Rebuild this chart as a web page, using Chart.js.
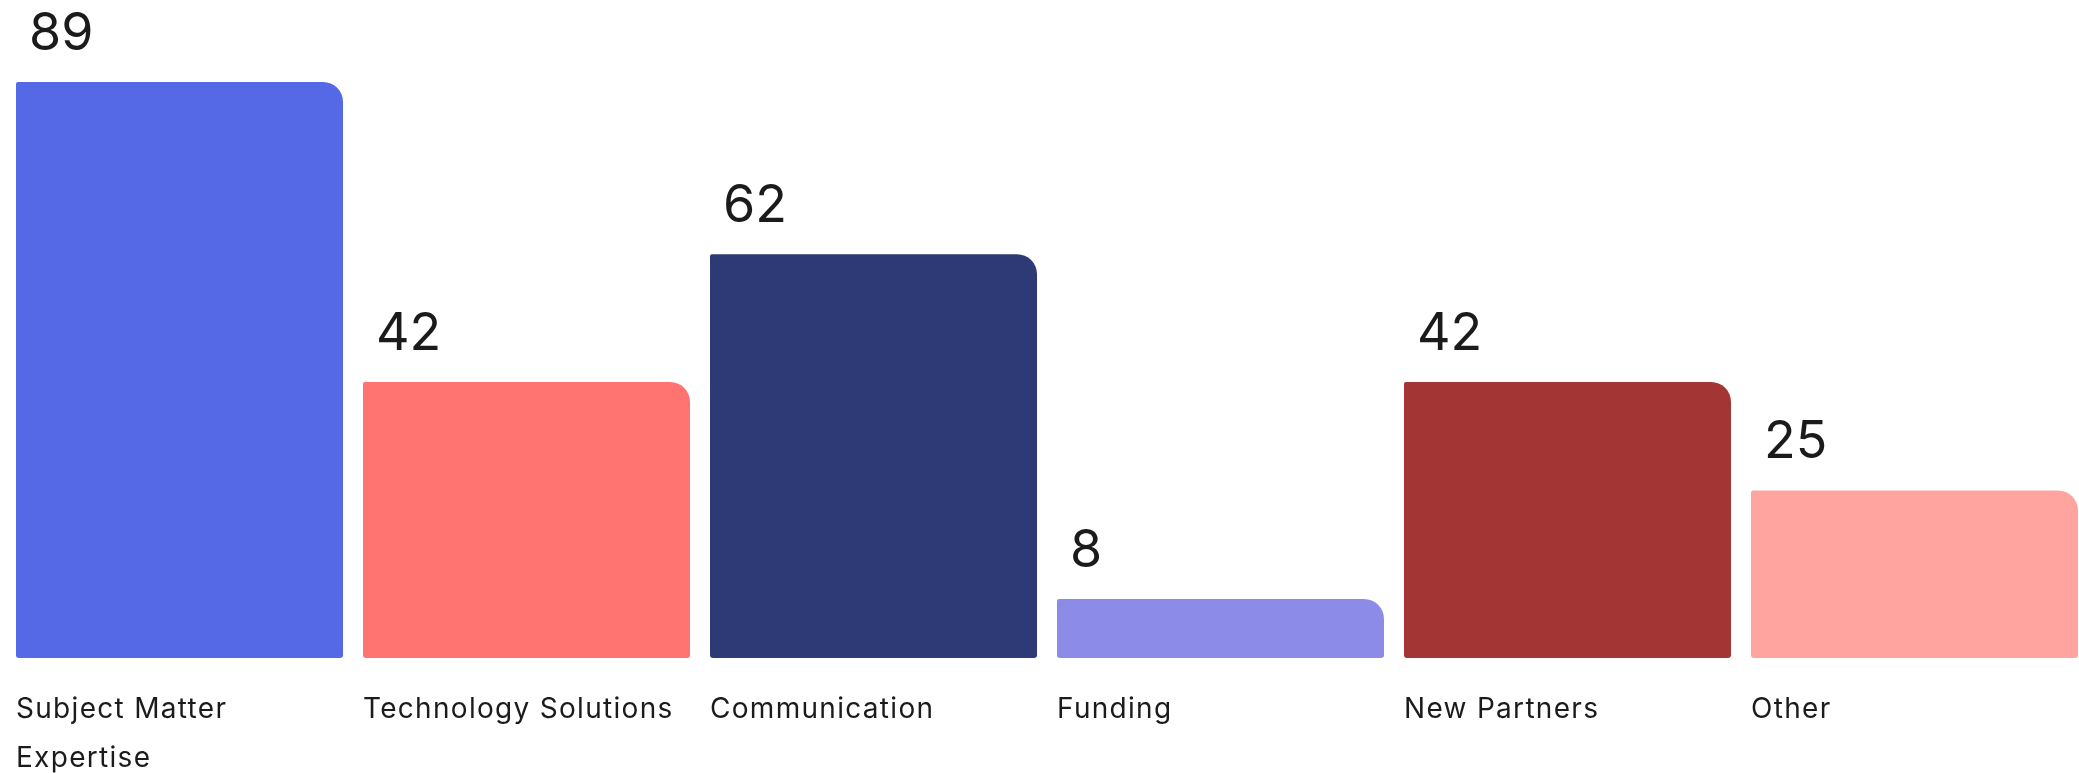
<!DOCTYPE html>
<html>
<head>
<meta charset="utf-8">
<script src="https://cdn.jsdelivr.net/npm/chart.js@4/dist/chart.umd.min.js"></script>
<style>
  html, body { margin: 0; padding: 0; background: #ffffff; overflow: hidden; }
  #wrap { position: absolute; left: 0; top: 0; width: 2088px; height: 773px; }
</style>
</head>
<body>
<div id="wrap"><canvas id="c"></canvas></div>
<script>
const categories = [
  ["Subject Matter", "Expertise"],
  ["Technology Solutions"],
  ["Communication"],
  ["Funding"],
  ["New Partners"],
  ["Other"]
];
const values = [89, 42, 62, 8, 42, 25];
const barColors = ["#5568E5", "#FF7470", "#2D3A76", "#8C8CE8", "#A33535", "#FFA49F"];

const labelPlugin = {
  id: 'labelPlugin',
  afterDatasetsDraw(chart) {
    const ctx = chart.ctx;
    const meta = chart.getDatasetMeta(0);
    ctx.save();
    ctx.fillStyle = '#1b1b1b';
    meta.data.forEach((bar, i) => {
      const left = bar.x - bar.width / 2;
      // value label
      ctx.font = '400 52px Inter, "Noto Sans", sans-serif';
      ctx.letterSpacing = '0px';
      ctx.textAlign = 'left';
      ctx.textBaseline = 'alphabetic';
      ctx.fillText(String(values[i]), left + 13, bar.y - 32);
      // category label
      ctx.font = '400 28px Inter, "Noto Sans", sans-serif';
      ctx.letterSpacing = '1.3px';
      categories[i].forEach((line, j) => {
        ctx.fillText(line, left, chart.chartArea.bottom + 60 + j * 49);
      });
    });
    ctx.restore();
  }
};

new Chart(document.getElementById('c'), {
  type: 'bar',
  data: {
    labels: categories.map(c => c.join(' ')),
    datasets: [{
      data: values,
      base: -1.25,
      backgroundColor: barColors,
      borderWidth: 0,
      borderSkipped: false,
      borderRadius: { topLeft: 2, topRight: 20, bottomLeft: 3, bottomRight: 3 },
      barPercentage: 0.9424,
      categoryPercentage: 1.0
    }]
  },
  options: {
    responsive: true,
    maintainAspectRatio: false,
    animation: false,
    devicePixelRatio: 1,
    layout: { padding: { left: 6, right: 0, top: 0, bottom: 115 } },
    plugins: { legend: { display: false }, tooltip: { enabled: false } },
    scales: {
      x: { display: false },
      y: { display: false, min: -1.25, max: 101.83 }
    }
  },
  plugins: [labelPlugin]
});
</script>
</body>
</html>
